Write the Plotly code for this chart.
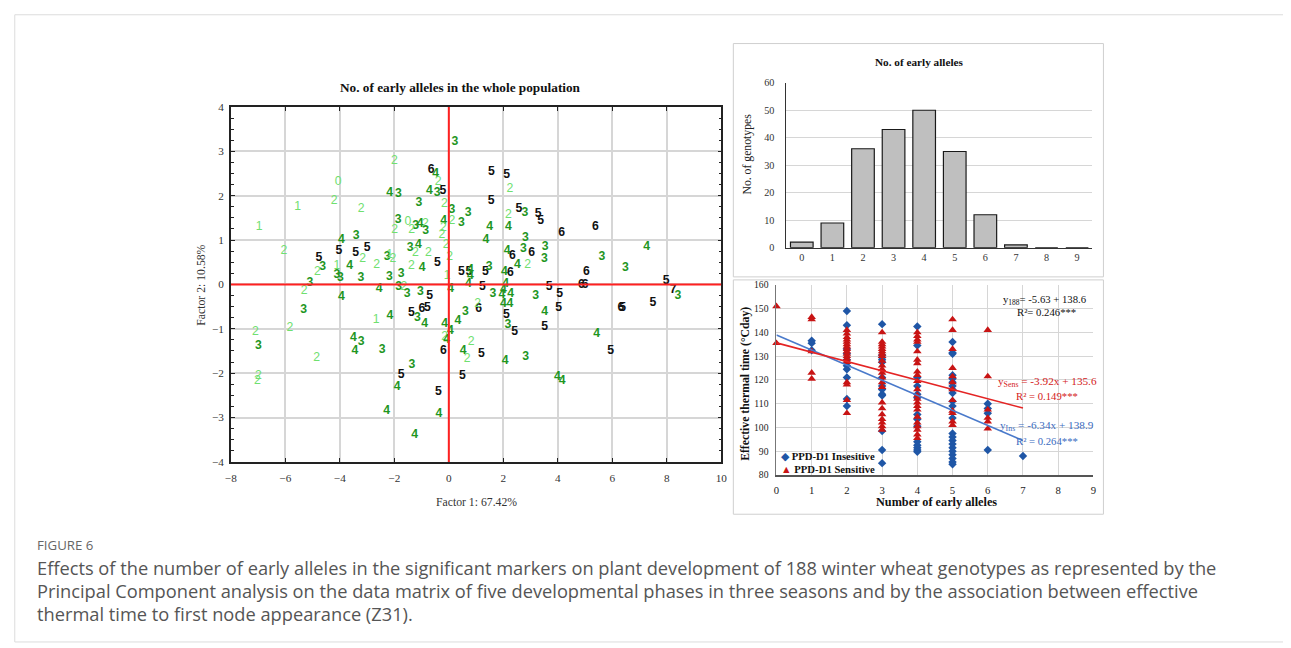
import plotly.graph_objects as go

# Figure canvas. The page photograph shows the canvas shifted by the page margin and slightly
# shrunk, so target pixel positions are converted with that measured mapping.
W, H = 1291, 648
SX, SY = 1291 / 1307, 648 / 664
OX, OY = 16 * SX, 16 * SY
FS = 1.02  # font compensation for the shrink

# ---------------- PCA (factor scores, labelled by number of early alleles) ----------------
pc1 = [0.22,-2.00,-0.65,-0.48,-0.39,-4.06,1.56,2.12,2.24,-2.17,
       -1.85,-0.71,-0.43,-0.22,1.55,-4.21,-5.55,-3.22,-1.10,-0.16,
       0.11,0.71,2.57,2.79,2.19,3.28,3.37,-6.96,-1.86,-1.50,
       -1.22,-1.05,-0.86,-0.85,-1.99,-1.36,-0.19,0.11,0.46,-0.20,
       -0.25,1.50,2.19,4.14,5.38,-3.94,-3.40,1.36,2.81,-6.05,
       -4.03,-3.42,-3.00,-1.42,-1.12,-1.23,-0.75,-0.10,2.74,3.04,
       3.54,7.26,2.14,2.33,-4.77,-4.63,-4.82,-4.11,-3.64,-3.16,
       -2.65,-2.26,-2.05,-2.17,-1.37,-0.98,-0.42,0.03,3.51,2.52,
       2.89,5.62,6.48,0.46,0.74,0.79,0.79,1.34,1.48,2.04,
       2.26,5.05,-4.11,-3.98,-3.23,-2.18,-1.75,-0.06,-5.10,-5.31,
       -2.56,-1.84,-1.65,-1.53,-1.04,-0.70,0.07,0.72,1.23,1.62,
       2.00,2.09,1.95,2.27,2.00,2.24,3.19,3.68,4.07,4.87,
       5.00,7.98,8.23,8.41,-3.94,-5.33,-1.37,-0.99,-0.79,-1.15,
       -0.89,-2.16,-2.67,4.03,3.52,6.32,6.38,7.49,1.10,1.06,
       3.52,2.42,2.17,2.11,0.61,0.33,-0.20,0.53,0.82,0.67,
       1.20,2.07,2.82,5.43,5.94,3.99,4.16,-0.15,0.06,-0.15,
       -0.08,-7.10,-6.99,-5.83,-3.50,-3.22,-3.45,-2.45,-4.85,-1.35,
       -6.99,-7.02,-1.75,-1.90,0.50,-0.38,-2.28,-0.36,-1.25]

pc2 = [3.20,2.79,2.59,2.50,2.30,2.32,2.54,2.46,2.15,2.06,
       2.03,2.10,2.06,2.10,1.88,1.89,1.74,1.69,1.84,1.81,
       1.68,1.60,1.69,1.62,1.57,1.58,1.43,1.30,1.45,1.40,
       1.32,1.37,1.36,1.20,1.23,1.23,1.43,1.43,1.38,1.28,
       1.12,1.30,1.30,1.16,1.30,1.01,1.09,1.00,1.05,0.76,
       0.75,0.70,0.82,0.82,0.90,0.71,0.70,0.90,0.79,0.70,
       0.85,0.84,0.75,0.65,0.60,0.39,0.27,0.41,0.42,0.57,
       0.45,0.61,0.57,0.67,0.42,0.37,0.48,0.62,0.57,0.43,
       0.43,0.62,0.36,0.29,0.27,0.33,0.18,0.29,0.39,0.28,
       0.26,0.27,0.22,0.14,0.14,0.17,0.23,0.19,0.04,-0.15,
       -0.10,-0.06,-0.05,-0.22,-0.16,-0.26,-0.11,0.01,-0.05,-0.21,
       -0.12,0.02,-0.23,-0.22,-0.45,-0.45,-0.25,-0.05,-0.21,-0.02,
       -0.02,0.07,-0.12,-0.26,-0.28,-0.57,-0.65,-0.56,-0.54,-0.76,
       -0.88,-0.71,-0.80,-0.52,-0.62,-0.54,-0.54,-0.42,-0.55,-0.45,
       -0.95,-1.06,-0.91,-0.68,-0.63,-0.83,-1.51,-1.49,-1.30,-1.68,
       -1.56,-1.72,-1.64,-1.11,-1.50,-2.08,-2.17,-0.90,-1.05,-1.18,
       -1.25,-1.07,-1.38,-0.99,-1.21,-1.29,-1.49,-1.47,-1.66,-1.81,
       -2.06,-2.18,-2.04,-2.31,-2.07,-2.43,-2.85,-2.93,-3.40]

n_early = [3,2,6,4,2,0,5,5,2,4,
           3,4,3,5,5,2,1,2,3,2,
           3,3,5,3,2,5,5,1,3,0,
           3,4,2,3,2,2,4,2,3,2,
           2,4,4,6,6,4,3,4,3,2,
           5,5,5,3,4,2,2,2,3,6,
           3,4,4,6,5,3,2,1,4,2,
           2,3,2,1,2,4,5,2,3,4,
           2,3,3,5,5,4,4,5,3,4,
           6,6,3,3,3,3,3,1,3,2,
           4,3,2,3,3,5,4,4,5,3,
           4,4,4,4,4,4,3,5,5,6,
           6,5,7,3,4,3,5,6,5,3,
           4,4,1,5,4,6,5,5,6,2,
           5,5,3,5,3,4,6,4,2,2,
           5,4,3,4,5,4,4,4,4,2,
           4,2,3,2,4,3,4,3,2,3,
           2,2,5,4,5,5,4,4,4]

pca_title = "No. of early alleles in the whole population"
pca_xlabel = "Factor 1: 67.42%"
pca_ylabel = "Factor 2: 10.58%"

# ---------------- Histogram ----------------
hist_alleles = [0, 1, 2, 3, 4, 5, 6, 7, 8, 9]
hist_counts = [2, 9, 36, 43, 50, 35, 12, 1, 0, 0]
hist_title = "No. of early alleles"
hist_ylabel = "No. of genotypes"

# ---------------- Effective thermal time vs number of early alleles ----------------
ins_ett = [
    [],
    [136.5, 135.5, 132.5],
    [149, 143, 133, 131, 128.5, 126, 124.5, 121, 112, 109],
    [143.5, 130.5, 129.5, 128.5, 127.5, 121, 117.5, 116, 114, 113.5, 98.5, 90.5, 85],
    [142.5, 134.5, 121, 117.5, 114, 112.5, 105.5, 103.5, 100.5, 94, 92.5, 91.5, 90.5, 89.8],
    [136, 131.5, 131, 122, 120.5, 119, 117.5, 116, 114.5, 111, 109, 104, 97.5, 96, 94.5,
     93, 91.5, 90, 88.5, 87, 85.5, 84.5],
    [110, 108, 106, 90.5],
    [88],
]
sens_ett = [
    [151, 135.5],
    [146.5, 145.5, 132, 123, 120.5],
    [141, 139.5, 138, 137, 136, 135, 134, 133, 132, 131, 130, 129, 128, 127.5, 119, 118, 111.5, 106],
    [140, 136, 135, 134, 133, 132, 131, 130, 128, 126, 124.5, 123, 121, 119, 117, 110.5, 108,
     105.5, 103.5, 102, 100.5, 99],
    [140, 138.5, 137, 136, 132, 128.5, 127, 123.5, 122, 119.5, 116, 113.5, 112, 110.5, 109,
     107.5, 104.5, 102, 100.5, 99, 97, 95.5],
    [145.5, 141, 133, 125, 121.5, 119, 116, 111.5, 107, 106, 102.5, 101],
    [141, 121.5, 107.5, 104, 102.5, 99.5],
]
ins_fit = (-6.34, 138.9)
sens_fit = (-3.92, 135.6)
fit_x = [0, 7]
ins_name = "PPD-D1 Insesitive"
sens_name = "PPD-D1 Sensitive"

caption_head = "FIGURE 6"
caption_lines = [
    "Effects of the number of early alleles in the significant markers on plant development of 188 winter wheat genotypes as represented by the",
    "Principal Component analysis on the data matrix of five developmental phases in three seasons and by the association between effective",
    "thermal time to first node appearance (Z31).",
]


def px(x):
    return (x - OX) / (W * SX)


def py(y):
    return 1 - (y - OY) / (H * SY)


def f(size):
    return round(size * FS, 2)


SERIF = "Liberation Serif"
INS_COLOR = "#1f56a6"
SENS_COLOR = "#c81414"

fig = go.Figure()

# PCA text labels
label_colors = {0: "#6fe06f", 1: "#6fe06f", 2: "#6fe06f", 3: "#1f961f", 4: "#1f961f",
                5: "#111111", 6: "#111111", 7: "#111111"}
labels = [("<b>%d</b>" % n) if n >= 3 else str(n) for n in n_early]
fig.add_trace(go.Scatter(
    x=pc1, y=pc2, mode="text", text=labels,
    textfont=dict(family="Liberation Sans", size=f(12), color=[label_colors[n] for n in n_early]),
    xaxis="x", yaxis="y", showlegend=False, hoverinfo="skip", cliponaxis=False))

# Histogram
fig.add_trace(go.Bar(
    x=hist_alleles, y=hist_counts, width=0.74,
    marker=dict(color="#bfbfbf", line=dict(color="#1a1a1a", width=1.2)),
    xaxis="x2", yaxis="y2", showlegend=False, hoverinfo="skip"))

# Scatter
ins_x, ins_y, sens_x, sens_y = [], [], [], []
for k, vals in enumerate(ins_ett):
    ins_x += [k] * len(vals)
    ins_y += vals
for k, vals in enumerate(sens_ett):
    sens_x += [k] * len(vals)
    sens_y += vals

fig.add_trace(go.Scatter(
    x=ins_x, y=ins_y, mode="markers", name=ins_name,
    marker=dict(symbol="diamond", size=6.5, color=INS_COLOR),
    xaxis="x3", yaxis="y3", cliponaxis=False, showlegend=False))
fig.add_trace(go.Scatter(
    x=sens_x, y=sens_y, mode="markers", name=sens_name,
    marker=dict(symbol="triangle-up", size=7.5, color=SENS_COLOR),
    xaxis="x3", yaxis="y3", cliponaxis=False, showlegend=False))
fig.add_trace(go.Scatter(
    x=fit_x, y=[ins_fit[0] * v + ins_fit[1] for v in fit_x], mode="lines",
    line=dict(color="#4a7acb", width=1.6), xaxis="x3", yaxis="y3", showlegend=False))
fig.add_trace(go.Scatter(
    x=fit_x, y=[sens_fit[0] * v + sens_fit[1] for v in fit_x], mode="lines",
    line=dict(color="#e42424", width=1.6), xaxis="x3", yaxis="y3", showlegend=False))

grid = "#d6d6d6"
tickf = dict(family=SERIF, size=f(11), color="#333333")

fig.update_layout(
    width=W, height=H, autosize=False,
    margin=dict(l=0, r=0, t=0, b=0),
    paper_bgcolor="white", plot_bgcolor="white",
    showlegend=False,
    xaxis=dict(domain=[px(232), px(721)], range=[-8, 10], tick0=-8, dtick=2, anchor="y",
               showgrid=True, gridcolor=grid, gridwidth=1.6, zeroline=False,
               showline=True, linecolor="#222222", linewidth=1.5, mirror="ticks",
               ticks="inside", ticklen=4, tickcolor="#222222",
               tickfont=tickf, ticklabelstandoff=5),
    yaxis=dict(domain=[py(461), py(108)], range=[-4, 4], dtick=1, anchor="x",
               showgrid=True, gridcolor=grid, gridwidth=1.6, zeroline=False,
               showline=True, linecolor="#222222", linewidth=1.5, mirror="ticks",
               ticks="inside", ticklen=4, tickcolor="#222222",
               minor=dict(dtick=0.25, ticks="inside", ticklen=3, tickcolor="#222222", showgrid=False),
               tickfont=tickf, ticklabelstandoff=3),
    xaxis2=dict(domain=[px(786), px(1091)], range=[-0.5, 9.5], tickvals=hist_alleles, anchor="y2",
                showgrid=False, zeroline=False, showline=True, linecolor="#333333", linewidth=1.3,
                ticks="", tickfont=dict(family=SERIF, size=f(10), color="#333333"), ticklabelstandoff=0),
    yaxis2=dict(domain=[py(248), py(84)], range=[0, 60], dtick=10, anchor="x2",
                showgrid=True, gridcolor=grid, gridwidth=1, zeroline=False,
                showline=True, linecolor="#333333", linewidth=1,
                ticks="", tickfont=dict(family=SERIF, size=f(10), color="#333333"), ticklabelstandoff=9),
    xaxis3=dict(domain=[px(776), px(1092)], range=[0, 9], dtick=1, anchor="y3",
                showgrid=True, gridcolor=grid, gridwidth=1, zeroline=False,
                showline=True, linecolor="#555555", linewidth=1.5,
                ticks="", tickfont=dict(family=SERIF, size=f(10.5), color="#222222"), ticklabelstandoff=4),
    yaxis3=dict(domain=[py(474), py(285)], range=[80, 160], dtick=10, anchor="x3",
                showgrid=True, gridcolor=grid, gridwidth=1, zeroline=False,
                showline=True, linecolor="#777777", linewidth=1,
                ticks="", tickfont=dict(family=SERIF, size=f(9.5), color="#222222"), ticklabelstandoff=5),
)

shapes = [
    # outer figure frame
    dict(type="rect", xref="paper", yref="paper", x0=0.0006, x1=1.05, y0=py(640), y1=0.9988,
         line=dict(color="#dcdcdc", width=1)),
    # panel boxes
    dict(type="rect", xref="paper", yref="paper", x0=px(733), x1=px(1102), y0=py(277), y1=py(45),
         line=dict(color="#cfcfcf", width=1)),
    dict(type="rect", xref="paper", yref="paper", x0=px(733), x1=px(1102), y0=py(513), y1=py(280),
         line=dict(color="#cfcfcf", width=1)),
    # PCA reference axes
    dict(type="line", xref="x", yref="y", x0=0, x1=0, y0=-4, y1=4, line=dict(color="#ff2020", width=2)),
    dict(type="line", xref="x", yref="y", x0=-8, x1=10, y0=0, y1=0, line=dict(color="#ff2020", width=2)),
]
fig.update_layout(shapes=shapes)


def ann(x, y, text, size, color="#111111", family=SERIF, angle=0, xanchor="center"):
    return dict(x=x, y=y, xref="paper", yref="paper", text=text, showarrow=False,
                font=dict(family=family, size=f(size), color=color), textangle=angle,
                xanchor=xanchor, yanchor="middle")


annotations = [
    ann(px(461), py(89), "<b>%s</b>" % pca_title, 13),
    ann(px(477), py(501), pca_xlabel, 11.5, "#333333"),
    ann(px(203), py(285), pca_ylabel, 11.5, "#333333", angle=-90),
    ann(px(918), py(63), "<b>%s</b>" % hist_title, 11),
    ann(px(747), py(155), hist_ylabel, 11.5, "#222222", angle=-90),
    ann(px(936), py(501), "<b>Number of early alleles</b>", 12),
    ann(px(745), py(383), "<b>Effective thermal time (°Cday)</b>", 11.5, angle=-90),
    ann(px(1044), py(300), "y<sub>188</sub>= -5.63 + 138.6", 10.5, "#111111"),
    ann(px(1045), py(312), "R²= 0.246***", 10.5, "#111111"),
    ann(px(1046), py(382), "y<sub>Sens</sub> = -3.92x + 135.6", 11, "#d42020"),
    ann(px(1046), py(395), "R² = 0.149***", 10.5, "#d42020"),
    ann(px(1046), py(425), "y<sub>Ins</sub> = -6.34x + 138.9", 11, "#3a6bc0"),
    ann(px(1046), py(440), "R² = 0.264***", 10.5, "#3a6bc0"),
    # legend of the scatter panel
    ann(px(779), py(455), "<span style='color:%s'>◆</span> <b>%s</b>" % (INS_COLOR, ins_name),
        10.5, "#111111", xanchor="left"),
    ann(px(779), py(468), "<span style='color:%s'>▲</span> <b>%s</b>" % (SENS_COLOR, sens_name),
        10.5, "#111111", xanchor="left"),
    ann(px(37), py(544), caption_head, 13, "#666666", family="Open Sans", xanchor="left"),
]
for i, line in enumerate(caption_lines):
    annotations.append(ann(px(37), py(565.5 + 23.3 * i), line, 17.9, "#555555", family="Open Sans",
                           xanchor="left"))
fig.update_layout(annotations=annotations)

fig.write_html("out.html")
